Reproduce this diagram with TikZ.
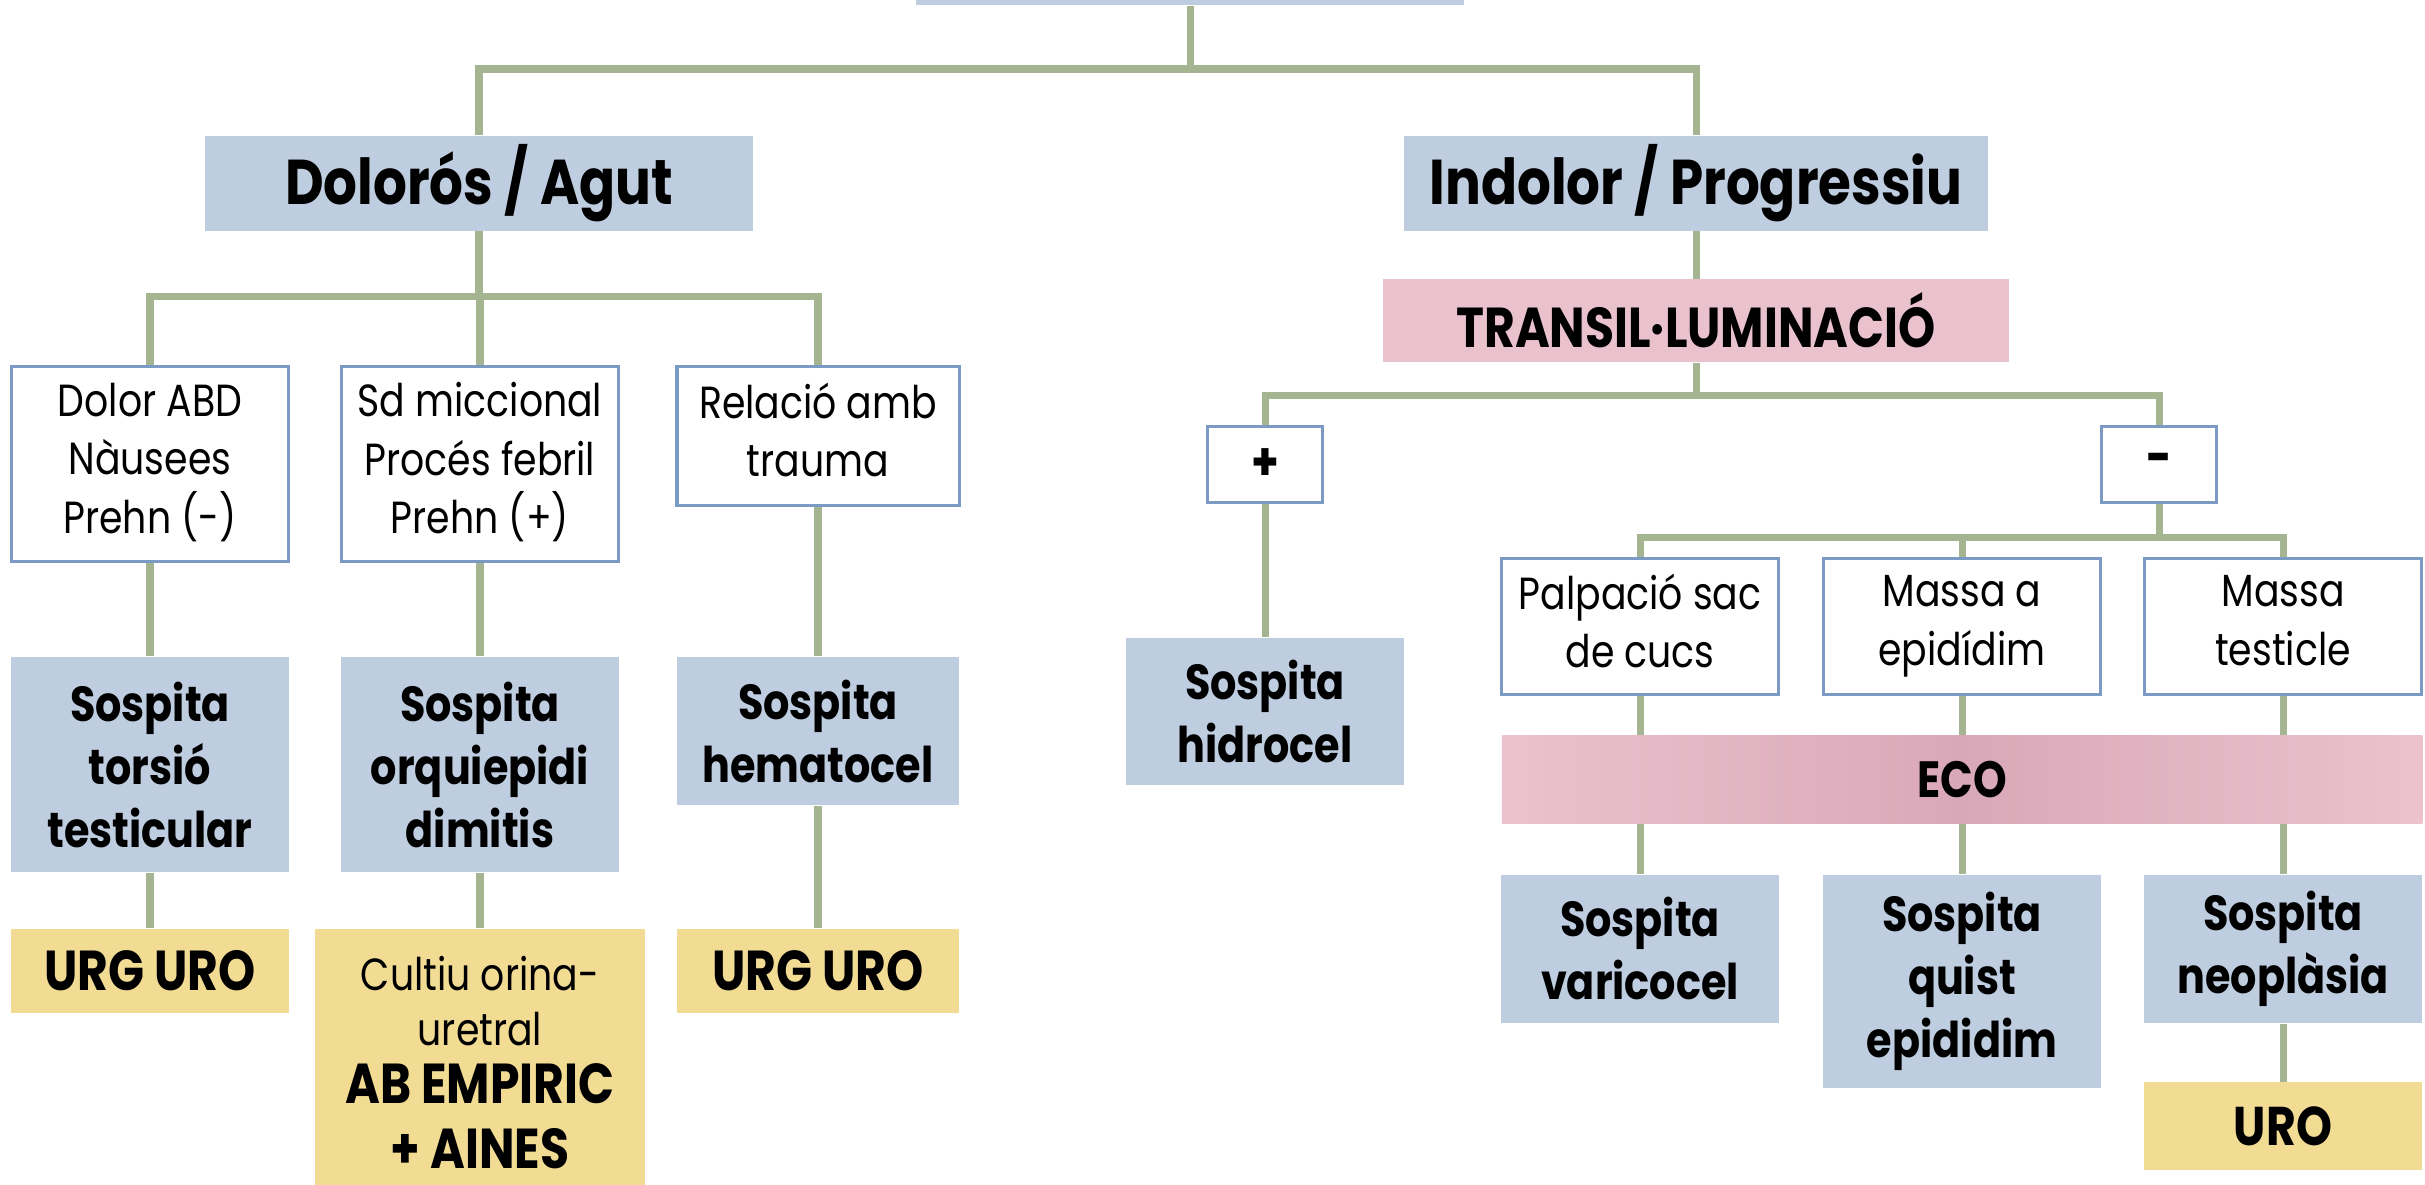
\documentclass[tikz,border=0pt]{standalone}
\usepackage{fontspec}
\setmainfont[FakeStretch=0.84]{Poppins}
\usetikzlibrary{positioning}

\definecolor{boxblue}{RGB}{191,205,224}
\definecolor{edgeblue}{RGB}{124,155,196}
\definecolor{linkgreen}{RGB}{165,181,146}
\definecolor{testpink}{RGB}{233,194,206}
\definecolor{ecodark}{RGB}{217,168,184}
\definecolor{ecolight}{RGB}{235,194,206}
\definecolor{actyellow}{RGB}{242,220,148}

\newcommand{\critstrut}{\rule[-3.5pt]{0pt}{21pt}}

\tikzset{
    link/.style={draw=linkgreen, line width=2pt},
    headbox/.style={fill=boxblue, minimum height=0.95cm, font=\fontsize{18}{22}\selectfont\bfseries},
    critbox/.style={draw=edgeblue, line width=0.9pt, fill=white, minimum width=2.77cm, align=center, font=\fontsize{12.8}{16.6}\selectfont,
        execute at begin node=\critstrut, execute at end node=\critstrut},
    signbox/.style={draw=edgeblue, line width=0.9pt, fill=white, minimum width=1.15cm, minimum height=0.76cm, font=\fontsize{15}{17}\selectfont\bfseries},
    suspbox/.style={fill=boxblue, minimum width=2.77cm, align=center, font=\fontsize{14}{17.9}\selectfont\bfseries},
    testbox/.style={fill=testpink, align=center, font=\fontsize{16}{18}\selectfont\bfseries},
    actbox/.style={fill=actyellow, minimum width=2.77cm, align=center, font=\fontsize{16}{18}\selectfont\bfseries},
}

\begin{document}
\begin{tikzpicture}[x=0.01cm, y=-0.01cm, inner sep=0pt]
    \useasboundingbox (0,0) rectangle (2425,1184);

    % root (cut by the page) and the two kinds of pain
    \node[headbox, minimum width=5.47cm, minimum height=1.2cm, anchor=south] (root) at (1190,6) {};
    \node[headbox, minimum width=5.47cm, anchor=north] (agut) at (479,135) {Dolorós / Agut};
    \node[headbox, minimum width=5.83cm, anchor=north] (indolor) at (1696,135) {Indolor / Progressiu};

    % acute branch
    \node[critbox, minimum height=1.95cm, anchor=north] (abd) at (150,365) {Dolor ABD\\Nàusees\\Prehn (-)};
    \node[critbox, minimum height=1.95cm, anchor=north] (febril) at (480,365) {Sd miccional\\Procés febril\\Prehn (+)};
    \node[critbox, minimum width=2.82cm, minimum height=1.39cm, anchor=north] (trauma) at (818,365) {Relació amb\\trauma};
    \node[suspbox, minimum height=2.15cm, below=0.93cm of abd] (torsio) {Sospita\\torsió\\testicular};
    \node[suspbox, minimum height=2.15cm, below=0.93cm of febril] (orqui) {Sospita\\orquiepidi\\dimitis};
    \node[suspbox, minimum width=2.82cm, minimum height=1.48cm, below=1.49cm of trauma] (hemato) {Sospita\\hematocel};
    \node[actbox, minimum height=0.84cm, below=0.55cm of torsio] (urgA) {URG URO};
    \node[actbox, minimum width=3.29cm, minimum height=2.68cm, below=0.55cm of orqui, font=\fontsize{16}{15}\selectfont\bfseries] (cultiu)
        {{\mdseries\fontsize{12.8}{15}\selectfont Cultiu orina-}\\[0.6pt]{\mdseries\fontsize{12.8}{15}\selectfont uretral}\\[1.7pt]AB EMPIRIC\\[3.5pt]+ AINES};
    \node[actbox, minimum width=2.82cm, minimum height=0.84cm, below=1.22cm of hemato] (urgB) {URG URO};

    % progressive branch
    \node[testbox, minimum width=6.26cm, minimum height=0.83cm, below=0.47cm of indolor] (transil) {TRANSIL·LUMINACIÓ};
    \node[signbox, anchor=north] (pos) at (1265,425) {+};
    \node[signbox, anchor=north] (neg) at (2159,425) {-};
    \node[suspbox, minimum height=1.47cm, below=1.33cm of pos] (hidro) {Sospita\\hidrocel};
    \node[critbox, minimum height=1.36cm, anchor=north] (varic) at (1640,557) {Palpació sac\\de cucs};
    \node[critbox, minimum height=1.36cm, anchor=north] (epid) at (1962,557) {Massa a\\epidídim};
    \node[critbox, minimum height=1.36cm, anchor=north] (testic) at (2283,557) {Massa\\testicle};
    \node[testbox, left color=ecolight, right color=ecolight, middle color=ecodark, font=\fontsize{14.5}{17}\selectfont\bfseries,
          minimum width=9.2cm, minimum height=0.88cm, anchor=north] (eco) at (1962,735) {ECO};
    \node[suspbox, minimum height=1.48cm, anchor=north] (svaric) at (1640,874) {Sospita\\varicocel};
    \node[suspbox, minimum height=2.13cm, anchor=north] (squist) at (1962,874) {Sospita\\quist\\epididim};
    \node[suspbox, minimum height=1.48cm, anchor=north] (sneo) at (2283,874) {Sospita\\neoplàsia};
    \node[actbox, minimum height=0.88cm, below=0.58cm of sneo, font=\fontsize{15.5}{18}\selectfont\bfseries] (uro) {URO};

    % connectors
    \draw[link] (root.south) -- ++(0,63) -| (agut.north);
    \draw[link] (root.south) -- ++(0,63) -| (indolor.north);
    \foreach \kid in {abd,febril,trauma}
        \draw[link] (agut.south) -- ++(0,65) -| (\kid.north);
    \draw[link] (abd) -- (torsio) -- (urgA);
    \draw[link] (febril) -- (orqui) -- (cultiu);
    \draw[link] (trauma) -- (hemato) -- (urgB);
    \draw[link] (indolor) -- (transil);
    \draw[link] (transil.south) -- ++(0,33) -| (pos.north);
    \draw[link] (transil.south) -- ++(0,33) -| (neg.north);
    \draw[link] (pos) -- (hidro);
    \foreach \kid in {varic,epid,testic}
        \draw[link] (neg.south) -- ++(0,33) -| (\kid.north);
    \foreach \crit/\susp in {varic/svaric, epid/squist, testic/sneo} {
        \draw[link] (\crit.south) -- (\crit.south |- eco.north);
        \draw[link] (\susp.north |- eco.south) -- (\susp.north);
    }
    \draw[link] (sneo) -- (uro);
\end{tikzpicture}
\end{document}
